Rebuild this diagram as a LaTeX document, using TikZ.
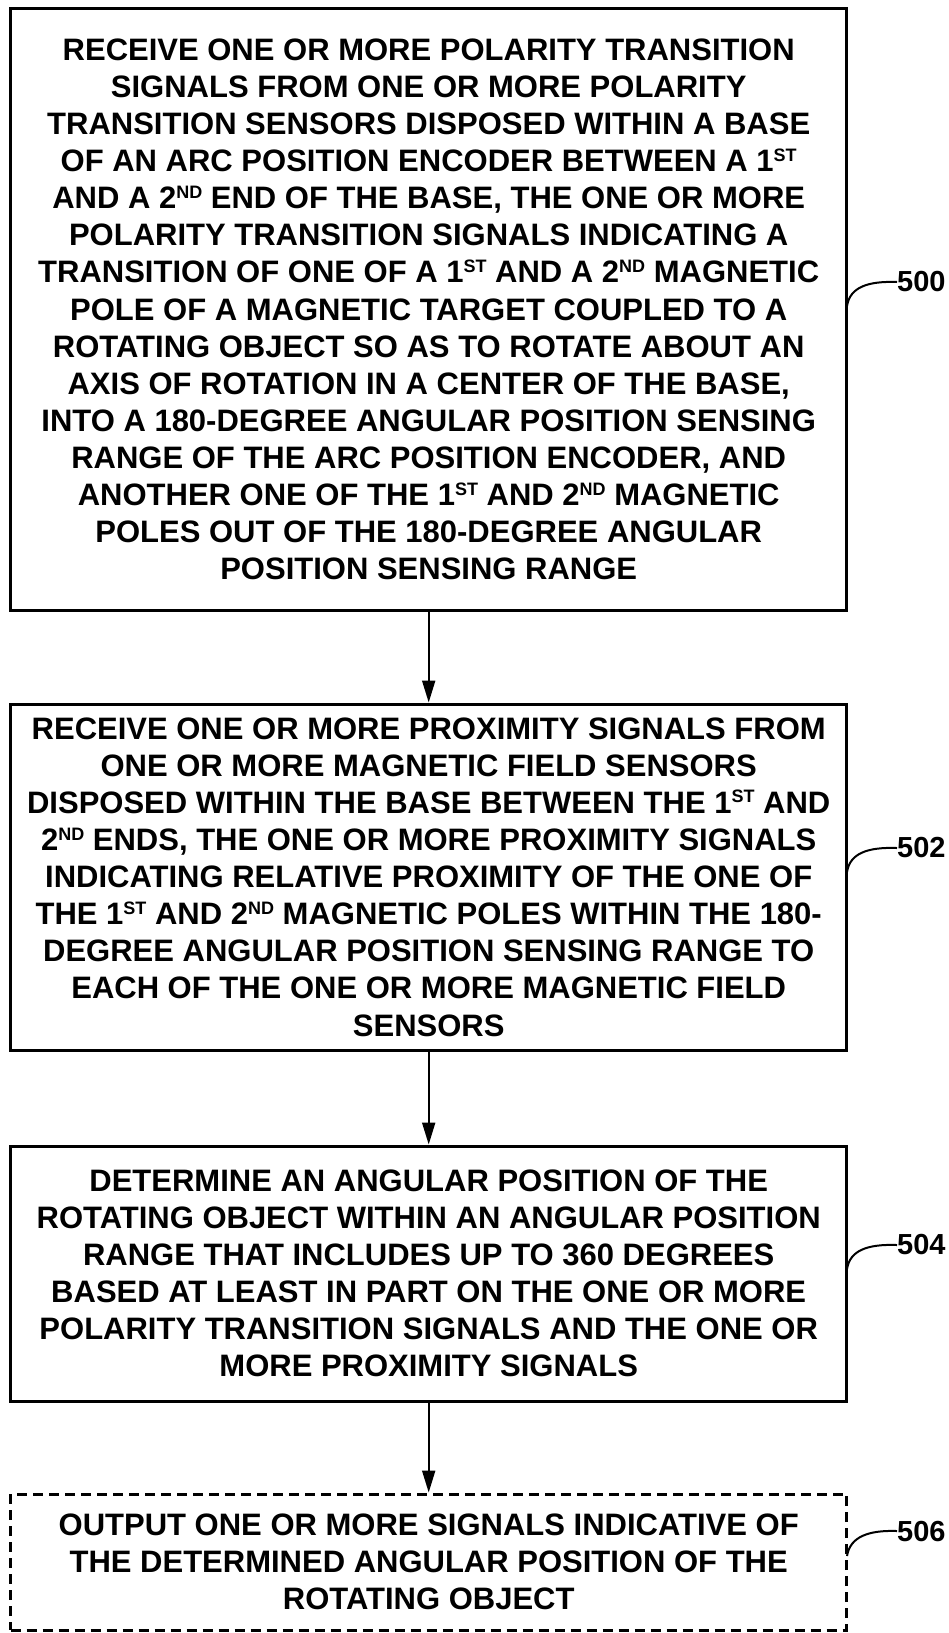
\documentclass[tikz,border=0pt]{standalone}
\usepackage{fontspec}
\setmainfont{Liberation Sans}
\usetikzlibrary{arrows.meta}
\newcommand{\sups}[1]{\raisebox{10.5pt}{\fontsize{18}{18}\selectfont #1}}
\tikzset{
  stepbox/.style={draw, line width=3pt, rectangle, minimum width=836pt, inner sep=0pt, align=center,
    font=\bfseries\fontsize{31}{37.1}\selectfont},
  optbox/.style={stepbox, dash pattern=on 10pt off 6pt},
  flow/.style={line width=2pt, -{Triangle[length=22pt,width=13pt]}},
  reflabel/.style={anchor=west, inner sep=0pt, font=\bfseries\fontsize{29}{29}\selectfont},
  refcurve/.style={line width=2pt}
}
\begin{document}
\begin{tikzpicture}[x=1pt,y=-1pt]
\useasboundingbox (0,0) rectangle (948,1633);
\node[stepbox, minimum height=602pt] (b1) at (428.7,309.4) {RECEIVE ONE OR MORE POLARITY TRANSITION\\
SIGNALS FROM ONE OR MORE POLARITY\\
TRANSITION SENSORS DISPOSED WITHIN A BASE\\
OF AN ARC POSITION ENCODER BETWEEN A 1\sups{ST}\\
AND A 2\sups{ND} END OF THE BASE, THE ONE OR MORE\\
POLARITY TRANSITION SIGNALS INDICATING A\\
TRANSITION OF ONE OF A 1\sups{ST} AND A 2\sups{ND} MAGNETIC\\
POLE OF A MAGNETIC TARGET COUPLED TO A\\
ROTATING OBJECT SO AS TO ROTATE ABOUT AN\\
AXIS OF ROTATION IN A CENTER OF THE BASE,\\
INTO A 180-DEGREE ANGULAR POSITION SENSING\\
RANGE OF THE ARC POSITION ENCODER, AND\\
ANOTHER ONE OF THE 1\sups{ST} AND 2\sups{ND} MAGNETIC\\
POLES OUT OF THE 180-DEGREE ANGULAR\\
POSITION SENSING RANGE};
\node[stepbox, minimum height=346pt] (b2) at (428.7,877) {RECEIVE ONE OR MORE PROXIMITY SIGNALS FROM\\
ONE OR MORE MAGNETIC FIELD SENSORS\\
DISPOSED WITHIN THE BASE BETWEEN THE 1\sups{ST} AND\\
2\sups{ND} ENDS, THE ONE OR MORE PROXIMITY SIGNALS\\
INDICATING RELATIVE PROXIMITY OF THE ONE OF\\
THE 1\sups{ST} AND 2\sups{ND} MAGNETIC POLES WITHIN THE 180-\\
DEGREE ANGULAR POSITION SENSING RANGE TO\\
EACH OF THE ONE OR MORE MAGNETIC FIELD\\
SENSORS};
\node[stepbox, minimum height=255pt] (b3) at (428.7,1273.5) {DETERMINE AN ANGULAR POSITION OF THE\\
ROTATING OBJECT WITHIN AN ANGULAR POSITION\\
RANGE THAT INCLUDES UP TO 360 DEGREES\\
BASED AT LEAST IN PART ON THE ONE OR MORE\\
POLARITY TRANSITION SIGNALS AND THE ONE OR\\
MORE PROXIMITY SIGNALS};
\node[optbox, minimum height=136pt] (b4) at (428.7,1562) {OUTPUT ONE OR MORE SIGNALS INDICATIVE OF\\
THE DETERMINED ANGULAR POSITION OF THE\\
ROTATING OBJECT};
\draw[flow] (b1.south) -- (b2.north);
\draw[flow] (b2.south) -- (b3.north);
\draw[flow] (b3.south) -- (b4.north);
\node[reflabel] (l500) at (897,282) {500};
\node[reflabel] (l502) at (897,848) {502};
\node[reflabel] (l504) at (897,1245) {504};
\node[reflabel] (l506) at (897,1531) {506};
\coordinate (c500) at (847,306);
\coordinate (c502) at (847,872);
\coordinate (c504) at (847,1269);
\coordinate (c506) at (847,1556);
\draw[refcurve] (c500) .. controls (850,287) and (868,281) .. (l500.west);
\draw[refcurve] (c502) .. controls (850,853) and (868,847) .. (l502.west);
\draw[refcurve] (c504) .. controls (850,1250) and (868,1244) .. (l504.west);
\draw[refcurve] (c506) .. controls (850,1537) and (868,1530) .. (l506.west);
\end{tikzpicture}
\end{document}
